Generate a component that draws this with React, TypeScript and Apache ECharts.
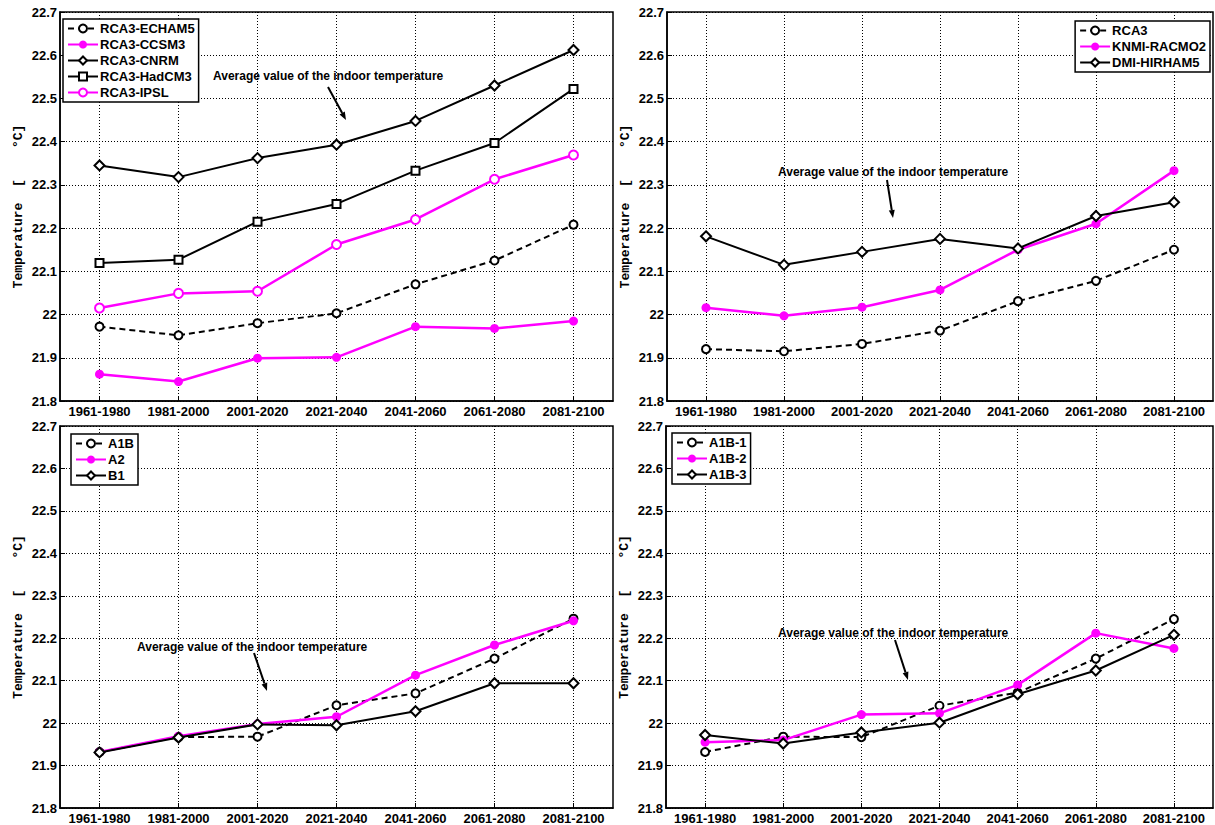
import React, { useEffect, useRef } from "react";
import * as echarts from "echarts";

const periods = ["1961-1980", "1981-2000", "2001-2020", "2021-2040", "2041-2060", "2061-2080", "2081-2100"];
const yTicks = { min: 21.8, max: 22.7, interval: 0.1 };

// Panel 1 (top left)
const rca3Echam5 = [21.972, 21.952, 21.980, 22.003, 22.070, 22.125, 22.208];
const rca3Ccsm3 = [21.862, 21.845, 21.899, 21.901, 21.972, 21.968, 21.985];
const rca3Cnrm = [22.345, 22.318, 22.362, 22.393, 22.448, 22.530, 22.612];
const rca3HadCM3 = [22.119, 22.127, 22.215, 22.256, 22.333, 22.397, 22.522];
const rca3Ipsl = [22.015, 22.049, 22.054, 22.162, 22.220, 22.313, 22.369];

// Panel 2 (top right)
const rca3 = [21.920, 21.915, 21.932, 21.963, 22.031, 22.078, 22.150];
const knmiRacmo2 = [22.016, 21.997, 22.017, 22.057, 22.150, 22.210, 22.333];
const dmiHirham5 = [22.181, 22.115, 22.145, 22.175, 22.153, 22.228, 22.260];

// Panel 3 (bottom left)
const a1b = [21.932, 21.967, 21.968, 22.042, 22.070, 22.152, 22.246];
const a2 = [21.932, 21.969, 21.998, 22.015, 22.113, 22.184, 22.241];
const b1 = [21.931, 21.966, 21.997, 21.995, 22.028, 22.094, 22.094];

// Panel 4 (bottom right)
const a1b1 = [21.932, 21.968, 21.967, 22.041, 22.072, 22.152, 22.245];
const a1b2 = [21.955, 21.960, 22.020, 22.023, 22.090, 22.212, 22.176];
const a1b3 = [21.972, 21.952, 21.978, 22.001, 22.068, 22.124, 22.208];

const annotationText = "Average value of the indoor temperature";

const MAGENTA = "#ff00ff";
const FONT = "'Liberation Sans', Arial, sans-serif";

const grids = [
  { left: 60, top: 12, width: 553, height: 389 },
  { left: 667, top: 12, width: 546, height: 389 },
  { left: 60, top: 426, width: 553, height: 383 },
  { left: 666, top: 426, width: 547, height: 383 },
];

type Style = "dashCircle" | "magDot" | "diamond" | "square" | "magCircle";

function makeSeries(name: string, data: number[], idx: number, style: Style) {
  const base: any = {
    type: "line",
    name,
    data,
    xAxisIndex: idx,
    yAxisIndex: idx,
    symbolSize: 8,
    z: 3,
  };
  if (style === "dashCircle") {
    base.symbol = "emptyCircle";
    base.lineStyle = { color: "#000", width: 2, type: [6, 4] };
    base.itemStyle = { color: "#000", borderWidth: 2 };
  } else if (style === "magDot") {
    base.symbol = "circle";
    base.symbolSize = 9;
    base.lineStyle = { color: MAGENTA, width: 2.5 };
    base.itemStyle = { color: MAGENTA };
  } else if (style === "magCircle") {
    base.symbol = "emptyCircle";
    base.symbolSize = 9;
    base.lineStyle = { color: MAGENTA, width: 2.5 };
    base.itemStyle = { color: MAGENTA, borderWidth: 2 };
  } else if (style === "diamond") {
    base.symbol = "emptyDiamond";
    base.symbolSize = 10;
    base.lineStyle = { color: "#000", width: 2 };
    base.itemStyle = { color: "#000", borderWidth: 2 };
  } else {
    base.symbol = "emptyRect";
    base.symbolSize = 8;
    base.lineStyle = { color: "#000", width: 2 };
    base.itemStyle = { color: "#000", borderWidth: 2 };
  }
  return base;
}

function arrow(x1: number, y1: number, x2: number, y2: number) {
  const dx = x2 - x1;
  const dy = y2 - y1;
  const len = Math.sqrt(dx * dx + dy * dy);
  const ux = dx / len;
  const uy = dy / len;
  const hl = 8;
  const hw = 3;
  const bx = x2 - ux * hl;
  const by = y2 - uy * hl;
  return [
    { type: "line", shape: { x1, y1, x2: bx, y2: by }, style: { stroke: "#000", lineWidth: 2 }, z: 10 },
    {
      type: "polygon",
      shape: { points: [[x2, y2], [bx - uy * hw, by + ux * hw], [bx + uy * hw, by - ux * hw]] },
      style: { fill: "#000" },
      z: 10,
    },
  ];
}

function annotation(tx: number, ty: number, ax1: number, ay1: number, ax2: number, ay2: number) {
  return [
    {
      type: "text",
      x: tx,
      y: ty,
      style: { text: annotationText, font: `bold 12px ${FONT}`, fill: "#000", textVerticalAlign: "middle" },
      z: 10,
    },
    ...arrow(ax1, ay1, ax2, ay2),
  ];
}

export default function App() {
  const ref = useRef<HTMLDivElement>(null);
  useEffect(() => {
    if (!ref.current) return;
    const chart = echarts.init(ref.current, undefined, { renderer: "svg" });

    const xAxes = grids.map((_, i) => ({
      type: "category",
      gridIndex: i,
      data: periods,
      boundaryGap: true,
      axisLine: { show: true, lineStyle: { color: "#000", width: 1.5 } },
      axisTick: { show: true, inside: true, alignWithLabel: true, length: 5, lineStyle: { color: "#000" } },
      axisLabel: { color: "#000", fontWeight: "bold", fontSize: 13, fontFamily: FONT, margin: 4, interval: 0 },
      splitLine: { show: true, alignWithLabel: true, lineStyle: { color: "#000", type: [1, 2], width: 1 } },
    }));

    const yAxes = grids.map((_, i) => ({
      type: "value",
      gridIndex: i,
      min: yTicks.min,
      max: yTicks.max,
      interval: yTicks.interval,
      name: "Temperature  [    °C]",
      nameLocation: "middle",
      nameGap: 35,
      nameTextStyle: { color: "#000", fontWeight: "bold", fontSize: 13, fontFamily: "'Liberation Mono', 'DejaVu Sans Mono', monospace" },
      axisLine: { show: true, lineStyle: { color: "#000", width: 1.5 } },
      axisTick: { show: true, inside: true, length: 5, lineStyle: { color: "#000" } },
      axisLabel: {
        color: "#000",
        fontWeight: "bold",
        fontSize: 13,
        fontFamily: FONT,
        margin: 3,
        formatter: (v: number) => String(Number(v.toFixed(1))),
      },
      splitLine: { show: true, lineStyle: { color: "#000", type: [1, 2], width: 1 } },
    }));

    const series = [
      makeSeries("RCA3-ECHAM5", rca3Echam5, 0, "dashCircle"),
      makeSeries("RCA3-CCSM3", rca3Ccsm3, 0, "magDot"),
      makeSeries("RCA3-CNRM", rca3Cnrm, 0, "diamond"),
      makeSeries("RCA3-HadCM3", rca3HadCM3, 0, "square"),
      makeSeries("RCA3-IPSL", rca3Ipsl, 0, "magCircle"),
      makeSeries("RCA3", rca3, 1, "dashCircle"),
      makeSeries("KNMI-RACMO2", knmiRacmo2, 1, "magDot"),
      makeSeries("DMI-HIRHAM5", dmiHirham5, 1, "diamond"),
      makeSeries("A1B", a1b, 2, "dashCircle"),
      makeSeries("A2", a2, 2, "magDot"),
      makeSeries("B1", b1, 2, "diamond"),
      makeSeries("A1B-1", a1b1, 3, "dashCircle"),
      makeSeries("A1B-2", a1b2, 3, "magDot"),
      makeSeries("A1B-3", a1b3, 3, "diamond"),
    ];

    const legendBase = {
      orient: "vertical",
      backgroundColor: "#fff",
      borderColor: "#000",
      borderWidth: 1.5,
      borderRadius: 0,
      padding: [3, 4, 3, 4],
      itemGap: 3,
      itemWidth: 30,
      itemHeight: 10,
      textStyle: { color: "#000", fontWeight: "bold", fontSize: 13, fontFamily: FONT, padding: [0, 0, 0, -3] },
      selectedMode: false,
    };

    const option: any = {
      animation: false,
      backgroundColor: "#fff",
      grid: grids.map((g) => ({ ...g, show: true, borderColor: "#000", borderWidth: 1.5, containLabel: false })),
      xAxis: xAxes,
      yAxis: yAxes,
      series,
      legend: [
        { ...legendBase, left: 63, top: 19, data: ["RCA3-ECHAM5", "RCA3-CCSM3", "RCA3-CNRM", "RCA3-HadCM3", "RCA3-IPSL"] },
        { ...legendBase, right: 5, top: 21, data: ["RCA3", "KNMI-RACMO2", "DMI-HIRHAM5"] },
        { ...legendBase, left: 71, top: 434, data: ["A1B", "A2", "B1"] },
        { ...legendBase, left: 672, top: 433, data: ["A1B-1", "A1B-2", "A1B-3"] },
      ],
      graphic: [
        ...annotation(213, 76, 328, 87, 346, 120),
        ...annotation(778, 172, 887, 180, 893, 218),
        ...annotation(137, 647, 254, 653, 267, 691),
        ...annotation(778, 633, 895, 640, 908, 680),
      ],
    };
    chart.setOption(option);
    return () => chart.dispose();
  }, []);
  return <div ref={ref} style={{ position: "absolute", left: 0, top: 0, width: 1215, height: 825 }} />;
}
